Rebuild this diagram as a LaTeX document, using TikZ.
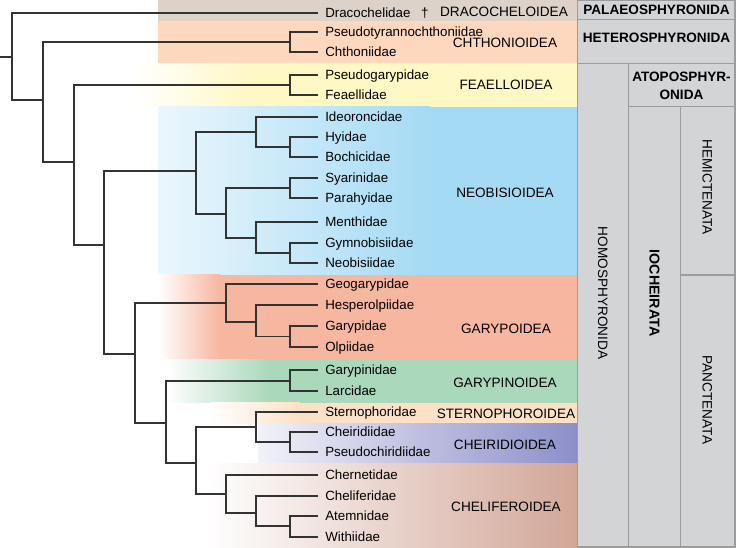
\documentclass[tikz,border=0pt]{standalone}
\usepackage{fontspec}
\setmainfont{Liberation Sans}
\definecolor{dracoc}{HTML}{DCD2CA}
\definecolor{chthc}{HTML}{FDD8BE}
\definecolor{feac}{HTML}{FEF8C4}
\definecolor{neoc}{HTML}{A4DAF4}
\definecolor{garc}{HTML}{F7B6A0}
\definecolor{ginoc}{HTML}{A9D8BB}
\definecolor{sternc}{HTML}{FDE1C6}
\definecolor{cheirc}{HTML}{8C8FC9}
\definecolor{chelc}{HTML}{D2A697}
\definecolor{boxfill}{HTML}{D3D4D6}
\definecolor{boxedge}{HTML}{9C9C9C}
\definecolor{branchc}{HTML}{333333}
\begin{document}
\begin{tikzpicture}[x=0.75pt,y=-0.75pt,
  branch/.style={draw=branchc, line width=1.35pt},
  taxon/.style={anchor=west, inner xsep=5.25pt, inner ysep=0pt,
    font=\fontsize{10}{11}\selectfont, text height=7pt, text depth=0pt},
  superfam/.style={inner sep=0pt, font=\fontsize{10.2}{12}\selectfont,
    text height=7.3pt, text depth=0pt},
  cladebox/.style={fill=boxfill, draw=boxedge, line width=1.1pt},
  boxlabel/.style={inner sep=0pt, font=\fontsize{10.2}{12}\selectfont\bfseries,
    text height=7.3pt, text depth=0pt},
  vlabel/.style={inner sep=0pt, rotate=-90, font=\fontsize{10.2}{12}\selectfont,
    text height=7.3pt, text depth=0pt}]
\useasboundingbox (0,0) rectangle (736,547);

% ---- coloured bands
\fill[dracoc] (158,0) rectangle (577.5,20.7);
\fill[chthc] (158,20.7) rectangle (577.5,63.3);
\shade[left color=white, right color=feac] (135,63.3) rectangle (250,106.7);
\fill[feac] (250,63.3) rectangle (577.5,106.7);
\shade[left color=neoc!22, right color=neoc] (158,106.7) rectangle (430,274.7);
\fill[neoc] (430,106.7) rectangle (577.5,274.7);
\shade[left color=white, right color=garc] (158,274.7) rectangle (220,359);
\fill[garc] (220,274.7) rectangle (577.5,359);
\shade[left color=white, right color=ginoc] (165,359) rectangle (270,402.7);
\fill[ginoc] (270,359) rectangle (577.5,402.7);
\shade[left color=white, right color=sternc] (210,402.7) rectangle (300,423);
\fill[sternc] (300,402.7) rectangle (577.5,423);
\shade[left color=cheirc!12, right color=cheirc] (258,423) rectangle (577.5,463.7);
\shade[left color=white, right color=chelc] (205,463.7) rectangle (577.5,547);

% ---- clade boxes
\draw[cladebox] (577.5,0) rectangle (735,19.5);
\draw[cladebox] (577.5,19.5) rectangle (735,63.3);
\draw[cladebox] (577.5,63.3) rectangle (628.3,547);
\draw[cladebox] (628.3,63.3) rectangle (735,106.7);
\draw[cladebox] (628.3,106.7) rectangle (680.7,547);
\draw[cladebox] (680.7,106.7) rectangle (735,275);
\draw[cladebox] (680.7,275) rectangle (735,547);

\node[boxlabel] (palaeo) at (656.5,10) {PALAEOSPHYRONIDA};
\node[boxlabel] (hetero) at (656.5,38) {HETEROSPHYRONIDA};
\node[inner sep=0pt, align=center, font=\fontsize{10.2}{13.3}\selectfont\bfseries] (atopo) at (681.5,85.5) {ATOPOSPHYR-\\ONIDA};
\node[vlabel] (homo) at (603,293) {HOMOSPHYRONIDA};
\node[vlabel, font=\fontsize{10.7}{12}\selectfont\bfseries] (ioch) at (654.5,293) {IOCHEIRATA};
\node[vlabel] (hemi) at (707.5,187) {HEMICTENATA};
\node[vlabel] (panct) at (707.5,400) {PANCTENATA};

% ---- superfamily labels
\node[superfam] (sDraco) at (504,12) {DRACOCHELOIDEA};
\node[superfam] (sChth) at (505,43) {CHTHONIOIDEA};
\node[superfam] (sFea) at (506,85) {FEAELLOIDEA};
\node[superfam] (sNeo) at (505,193) {NEOBISIOIDEA};
\node[superfam] (sGar) at (506,329) {GARYPOIDEA};
\node[superfam] (sGino) at (505,383) {GARYPINOIDEA};
\node[superfam] (sStern) at (506,414) {STERNOPHOROIDEA};
\node[superfam] (sCheir) at (505,445) {CHEIRIDIOIDEA};
\node[superfam] (sChel) at (506,507) {CHELIFEROIDEA};

% ---- taxa
\node[taxon] (t1) at (318,13.3) {Dracochelidae\hspace{0.8em}†};
\node[taxon] (t2) at (318,31.7) {Pseudotyrannochthoniidae};
\node[taxon] (t3) at (318,51.7) {Chthoniidae};
\node[taxon] (t4) at (318,75) {Pseudogarypidae};
\node[taxon] (t5) at (318,95) {Feaellidae};
\node[taxon] (t6) at (318,116.7) {Ideoroncidae};
\node[taxon] (t7) at (318,136.7) {Hyidae};
\node[taxon] (t8) at (318,157.3) {Bochicidae};
\node[taxon] (t9) at (318,178.3) {Syarinidae};
\node[taxon] (t10) at (318,198.3) {Parahyidae};
\node[taxon] (t11) at (318,221.7) {Menthidae};
\node[taxon] (t12) at (318,242.7) {Gymnobisiidae};
\node[taxon] (t13) at (318,263.3) {Neobisiidae};
\node[taxon] (t14) at (318,284) {Geogarypidae};
\node[taxon] (t15) at (318,305) {Hesperolpiidae};
\node[taxon] (t16) at (318,325.7) {Garypidae};
\node[taxon] (t17) at (318,347.3) {Olpiidae};
\node[taxon] (t18) at (318,370) {Garypinidae};
\node[taxon] (t19) at (318,390.7) {Larcidae};
\node[taxon] (t20) at (318,412.3) {Sternophoridae};
\node[taxon] (t21) at (318,432.3) {Cheiridiidae};
\node[taxon] (t22) at (318,452.3) {Pseudochiridiidae};
\node[taxon] (t23) at (318,475) {Chernetidae};
\node[taxon] (t24) at (318,496) {Cheliferidae};
\node[taxon] (t25) at (318,516) {Atemnidae};
\node[taxon] (t26) at (318,536.7) {Withiidae};

% ---- internal nodes
\coordinate (stub) at (0,56.7);
\coordinate (R) at (12.3,56.7);
\coordinate (A) at (42.7,100);
\coordinate (Nch) at (290,41.7);
\coordinate (B) at (73.7,161.7);
\coordinate (Nfe) at (290,85);
\coordinate (C) at (104.3,245);
\coordinate (Nneo) at (196,171);
\coordinate (Nid) at (256,131.7);
\coordinate (Nhb) at (290,147);
\coordinate (Nsm) at (226,214.3);
\coordinate (Nsp) at (290,188.3);
\coordinate (Nme) at (256,238);
\coordinate (Ngn) at (290,253);
\coordinate (D) at (135,353.7);
\coordinate (Ngar) at (226,303);
\coordinate (Nhgo) at (256,322);
\coordinate (Ngo) at (290,336.5);
\coordinate (E) at (165.7,423);
\coordinate (Ngl) at (290,381);
\coordinate (F) at (196,462.7);
\coordinate (Nsc) at (256,427);
\coordinate (Ncp) at (290,442.3);
\coordinate (Nchel) at (226,493.7);
\coordinate (Ncaw) at (256,512.7);
\coordinate (Naw) at (290,526.3);

% ---- branches
\draw[branch] (stub) -- (R);
\foreach \p/\c in {R/t1, R/A, A/Nch, A/B, Nch/t2, Nch/t3, B/Nfe, B/C,
  Nfe/t4, Nfe/t5, C/Nneo, C/D, Nneo/Nid, Nneo/Nsm, Nid/t6, Nid/Nhb,
  Nhb/t7, Nhb/t8, Nsm/Nsp, Nsm/Nme, Nsp/t9, Nsp/t10, Nme/t11, Nme/Ngn,
  Ngn/t12, Ngn/t13, D/Ngar, D/E, Ngar/t14, Ngar/Nhgo, Nhgo/t15, Nhgo/Ngo,
  Ngo/t16, Ngo/t17, E/Ngl, E/F, Ngl/t18, Ngl/t19, F/Nsc, F/Nchel,
  Nsc/t20, Nsc/Ncp, Ncp/t21, Ncp/t22, Nchel/t23, Nchel/Ncaw, Ncaw/t24,
  Ncaw/Naw, Naw/t25, Naw/t26}
  \draw[branch] (\p) |- (\c);
\end{tikzpicture}
\end{document}
